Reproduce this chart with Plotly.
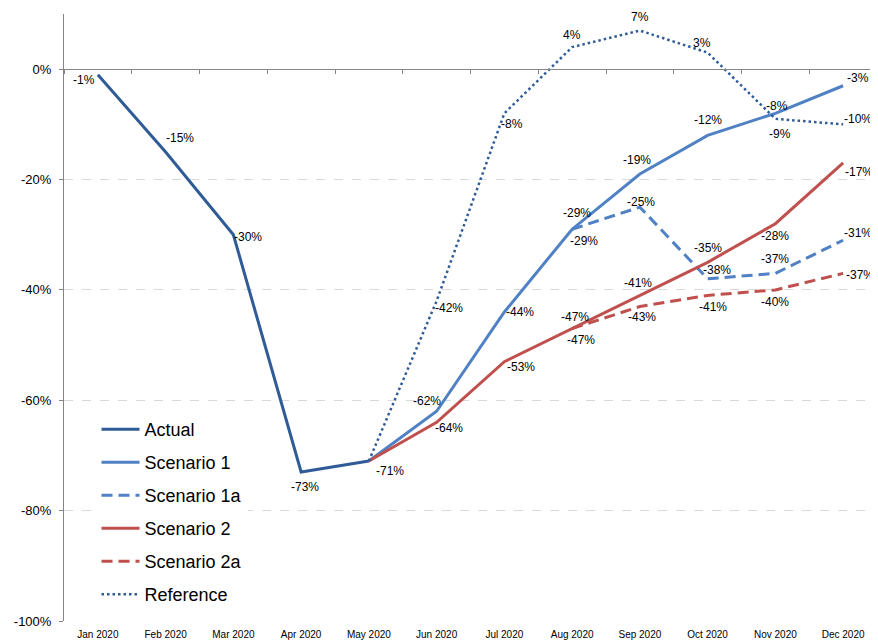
import plotly.graph_objects as go

# ---------------- data ----------------
months = ["Jan 2020", "Feb 2020", "Mar 2020", "Apr 2020", "May 2020", "Jun 2020",
          "Jul 2020", "Aug 2020", "Sep 2020", "Oct 2020", "Nov 2020", "Dec 2020"]

actual_x = months[0:5]
actual_y = [-1, -15, -30, -73, -71]

scen1_x = months[4:12]
scen1_y = [-71, -62, -44, -29, -19, -12, -8, -3]

scen1a_x = months[7:12]
scen1a_y = [-29, -25, -38, -37, -31]

scen2_x = months[4:12]
scen2_y = [-71, -64, -53, -47, -41, -35, -28, -17]

scen2a_x = months[7:12]
scen2a_y = [-47, -43, -41, -40, -37]

ref_x = months[4:12]
ref_y = [-71, -42, -8, 4, 7, 3, -9, -10]

y_ticks = [-100, -80, -60, -40, -20, 0]
y_min, y_max = -100, 10

# ---------------- label placement (pixel offsets dx, dy-down; None = no label) ----------------
actual_off = [(-14, 5), (14, -14), (15, 2), (4, 15), (21, 10)]
scen1_off = [None, (-10, -10), (16, 0), (5, -16), (-3, -14), (0, -15), (2, -7), (15, -8)]
scen1a_off = [(12, 12), (1, -5), (9, -9), (0, -14), (15, -7)]
scen2_off = [None, (12, 6), (17, 5), (3, -12), (-2, -12), (0, -14), (0, 12), (16, 9)]
scen2a_off = [(9, 11), (2, 11), (5, 12), (0, 12), (17, 2)]
ref_off = [None, (12, 7), (8, 11), (0, -12), (0, -14), (-6, -10), (5, 15), (15, -5)]

DARK = "#2F5B96"
BLUE = "#4F81C4"
RED = "#C0504D"

series = [
    ("Actual", actual_x, actual_y, actual_off, dict(color=DARK, width=3)),
    ("Scenario 1", scen1_x, scen1_y, scen1_off, dict(color=BLUE, width=3)),
    ("Scenario 1a", scen1a_x, scen1a_y, scen1a_off, dict(color=BLUE, width=3, dash="11px,6px")),
    ("Scenario 2", scen2_x, scen2_y, scen2_off, dict(color=RED, width=3)),
    ("Scenario 2a", scen2a_x, scen2a_y, scen2a_off, dict(color=RED, width=3, dash="11px,6px")),
    ("Reference", ref_x, ref_y, ref_off, dict(color=DARK, width=2.5, dash="2.5px,3px")),
]

fig = go.Figure()
annotations = []
for name, xs, ys, offs, line in series:
    fig.add_trace(go.Scatter(x=xs, y=ys, mode="lines", name=name, line=line,
                             legendgroup=name, hoverinfo="skip"))
    for xv, yv, off in zip(xs, ys, offs):
        if off is None:
            continue
        annotations.append(dict(x=xv, y=yv, xref="x", yref="y", text=f"{yv}%",
                                showarrow=False, xanchor="center", yanchor="middle",
                                xshift=off[0], yshift=-off[1],
                                font=dict(size=12, color="#000000")))

# invisible trace to carry the zero-line axis
fig.add_trace(go.Scatter(x=months, y=[None] * len(months), xaxis="x2", showlegend=False,
                         hoverinfo="skip", mode="lines"))

fig.update_layout(
    width=878, height=642,
    margin=dict(l=56, r=9, t=6, b=29),
    paper_bgcolor="white", plot_bgcolor="white",
    font=dict(family="Liberation Sans, Arial, sans-serif", color="#000000"),
    showlegend=True,
    legend=dict(x=0.04, y=0.346, xanchor="left", yanchor="top",
                bgcolor="white", font=dict(size=18), tracegroupgap=6.6,
                traceorder="grouped", itemwidth=38),
    xaxis=dict(type="category", categoryorder="array", categoryarray=months,
               range=[-0.5, len(months) - 0.5], showgrid=False, showline=False,
               ticks="", tickfont=dict(size=10), zeroline=False, ticklabelstandoff=6),
    xaxis2=dict(type="category", categoryorder="array", categoryarray=months,
                overlaying="x", matches="x", anchor="free",
                position=(0 - y_min) / (y_max - y_min),
                showline=True, linecolor="#868686", linewidth=1,
                ticks="outside", ticklen=4, tickcolor="#868686", tickson="boundaries",
                showticklabels=False, showgrid=False, zeroline=False),
    yaxis=dict(range=[y_min, y_max], tickvals=y_ticks,
               ticktext=[f"{v}%" for v in y_ticks],
               showgrid=True, gridcolor="#D9D9D9", griddash="dash", gridwidth=1,
               showline=True, linecolor="#868686", linewidth=1,
               ticks="outside", ticklen=4, tickcolor="#868686",
               tickfont=dict(size=13), zeroline=False, ticklabelstandoff=5),
    annotations=annotations,
)

fig.write_html("out.html")
